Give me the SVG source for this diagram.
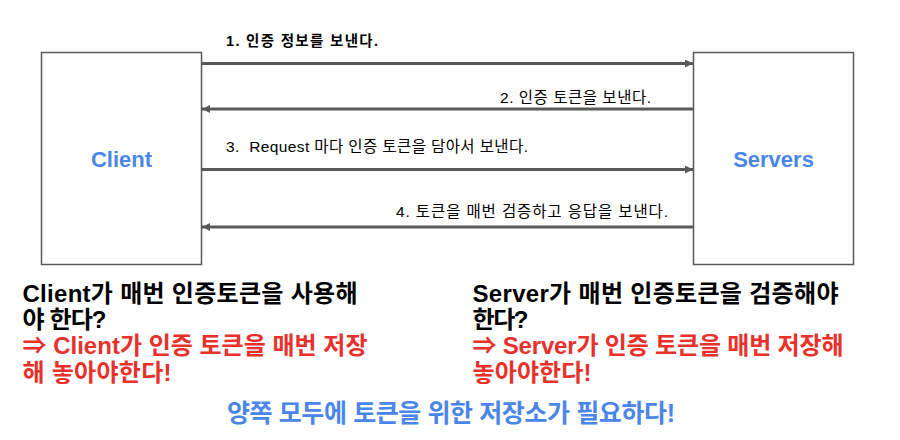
<svg xmlns="http://www.w3.org/2000/svg" width="900" height="440" viewBox="0 0 900 440">
  <style>
    .box { fill: #ffffff; stroke: #595959; stroke-width: 1.5; }
    .title { font-family: "Liberation Sans", "Noto Sans CJK KR", sans-serif; font-weight: bold; font-size: 22px; fill: #4a86e8; text-anchor: middle; }
    .conn { stroke: #595959; stroke-width: 3; fill: none; }
    .lbl { font-family: "Liberation Sans", "Noto Sans CJK KR", sans-serif; font-size: 15.5px; fill: #000000; }
    .lblb { font-weight: bold; font-size: 14.5px; }
    .note { font-family: "Liberation Sans", "Noto Sans CJK KR", sans-serif; font-weight: bold; font-size: 24px; }
    .blk { fill: #000000; }
    .red { fill: #e8312a; }
    .blue { fill: #4a86e8; font-size: 25px; }
  </style>
  <defs>
    <marker id="arrow" viewBox="0 0 10 10" refX="10" refY="5" markerWidth="9" markerHeight="8" markerUnits="userSpaceOnUse" orient="auto">
      <path d="M0,0 L10,5 L0,10 z" fill="#595959"/>
    </marker>
  </defs>

  <g id="client">
    <rect class="box" x="41.5" y="52.5" width="160" height="212"/>
    <text class="title" x="121.5" y="166.5">Client</text>
  </g>

  <g id="servers">
    <rect class="box" x="693.5" y="52.5" width="160" height="212"/>
    <text class="title" x="773.5" y="166.5">Servers</text>
  </g>

  <g id="connectors">
    <line class="conn" x1="202" y1="63.5" x2="693" y2="63.5" marker-end="url(#arrow)"/>
    <line class="conn" x1="693" y1="109" x2="202" y2="109" marker-end="url(#arrow)"/>
    <line class="conn" x1="202" y1="169.5" x2="693" y2="169.5" marker-end="url(#arrow)"/>
    <line class="conn" x1="693" y1="227" x2="202" y2="227" marker-end="url(#arrow)"/>
    <text class="lbl lblb" x="226" y="46" textLength="152" lengthAdjust="spacing">1. 인증 정보를 보낸다.</text>
    <text class="lbl" x="500" y="102.5" textLength="151" lengthAdjust="spacing">2. 인증 토큰을 보낸다.</text>
    <text class="lbl" x="226" y="151.5" xml:space="preserve" textLength="302" lengthAdjust="spacing">3.  Request 마다 인증 토큰을 담아서 보낸다.</text>
    <text class="lbl" x="396" y="216.5" textLength="272" lengthAdjust="spacing">4. 토큰을 매번 검증하고 응답을 보낸다.</text>
  </g>

  <g id="client-note">
    <text class="note blk" x="22.5" y="301.5" textLength="335" lengthAdjust="spacing">Client가 매번 인증토큰을 사용해</text>
    <text class="note blk" x="22.5" y="327.5" textLength="84" lengthAdjust="spacing">야 한다?</text>
    <text class="note red" x="22.5" y="354" textLength="345" lengthAdjust="spacing">⇒ Client가 인증 토큰을 매번 저장</text>
    <text class="note red" x="22.5" y="380.5" textLength="149" lengthAdjust="spacing">해 놓아야한다!</text>
  </g>

  <g id="server-note">
    <text class="note blk" x="472.5" y="301.5" textLength="366" lengthAdjust="spacing">Server가 매번 인증토큰을 검증해야</text>
    <text class="note blk" x="472.5" y="327.5" textLength="56" lengthAdjust="spacing">한다?</text>
    <text class="note red" x="472.5" y="354" textLength="371" lengthAdjust="spacing">⇒ Server가 인증 토큰을 매번 저장해</text>
    <text class="note red" x="472.5" y="380.5" textLength="119" lengthAdjust="spacing">놓아야한다!</text>
  </g>

  <g id="conclusion">
    <text class="note blue" x="227" y="421.5" textLength="448" lengthAdjust="spacing">양쪽 모두에 토큰을 위한 저장소가 필요하다!</text>
  </g>
</svg>
